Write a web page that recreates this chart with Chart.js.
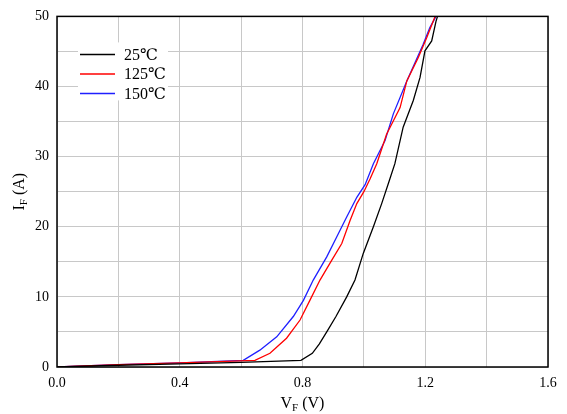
<!DOCTYPE html>
<html>
<head>
<meta charset="utf-8">
<script src="https://cdn.jsdelivr.net/npm/chart.js@4.4.0/dist/chart.umd.min.js"></script>
<style>
  html, body { margin: 0; padding: 0; background: #fff; }
  #wrap { width: 567px; height: 414px; }
</style>
</head>
<body>
<div id="wrap"><canvas id="ivChart" width="567" height="414"></canvas></div>
<script>
// Series data
const seriesNames = ['25℃', '125℃', '150℃'];
const seriesColors = ['#000000', '#ff0000', '#1f1fff'];

const vf25 = [0, 0.2, 0.4, 0.6, 0.795, 0.832, 0.855, 0.879, 0.909, 0.944, 0.971, 0.998, 1.031, 1.058, 1.083, 1.101, 1.128, 1.161, 1.183, 1.199, 1.221, 1.235, 1.24];
const if25 = [0, 0.25, 0.45, 0.65, 0.95, 1.95, 3.3, 5.0, 7.2, 10.0, 12.4, 16.2, 20.0, 23.3, 26.6, 29.0, 34.2, 38.0, 41.3, 45.1, 46.5, 49.3, 50];

const vf125 = [0, 0.2, 0.4, 0.645, 0.694, 0.72, 0.748, 0.792, 0.824, 0.857, 0.895, 0.928, 0.955, 0.977, 1.0, 1.02, 1.042, 1.074, 1.118, 1.14, 1.177, 1.205, 1.232];
const if125 = [0, 0.35, 0.6, 0.95, 1.95, 3.0, 4.1, 6.7, 9.5, 12.4, 15.2, 17.6, 20.9, 23.3, 25.0, 26.8, 29.0, 33.2, 37.0, 40.8, 44.1, 47.0, 50];

const vf150 = [0, 0.2, 0.4, 0.607, 0.661, 0.716, 0.77, 0.803, 0.835, 0.879, 0.911, 0.944, 0.977, 1.004, 1.031, 1.069, 1.096, 1.14, 1.193, 1.215, 1.235];
const if150 = [0, 0.35, 0.6, 0.95, 2.4, 4.3, 7.2, 9.5, 12.4, 15.7, 18.5, 21.4, 24.2, 26.0, 29.0, 32.3, 36.1, 40.8, 46.0, 48.4, 50];

const xTickLabels = ['0.0', '0.4', '0.8', '1.2', '1.6'];
const yTickLabels = ['0', '10', '20', '30', '40', '50'];

const serif = "'Liberation Serif', 'DejaVu Serif', serif";

function toPoints(xs, ys) {
    return xs.map((x, i) => ({ x: x, y: ys[i] }));
}

// frame, axis titles with subscript, legend
const decorPlugin = {
    id: 'decor',
    afterDraw(chart) {
        const ctx = chart.ctx;
        const a = chart.chartArea;
        ctx.save();
        // frame
        ctx.strokeStyle = '#000';
        ctx.lineWidth = 1.5;
        ctx.strokeRect(a.left, a.top, a.right - a.left, a.bottom - a.top);

        // x axis title V_F (V)
        ctx.fillStyle = '#000';
        ctx.textBaseline = 'alphabetic';
        const cx = (a.left + a.right) / 2;
        ctx.font = '16px ' + serif;
        const w1 = ctx.measureText('V').width;
        ctx.font = '11px ' + serif;
        const w2 = ctx.measureText('F').width;
        ctx.font = '16px ' + serif;
        const w3 = ctx.measureText(' (V)').width;
        let x0 = cx - (w1 + w2 + w3) / 2;
        const by = 408;
        ctx.textAlign = 'left';
        ctx.fillText('V', x0, by);
        ctx.font = '11px ' + serif;
        ctx.fillText('F', x0 + w1, by + 3);
        ctx.font = '16px ' + serif;
        ctx.fillText(' (V)', x0 + w1 + w2, by);

        // y axis title I_F (A)
        ctx.translate(24, (a.top + a.bottom) / 2);
        ctx.rotate(-Math.PI / 2);
        const u1 = ctx.measureText('I').width;
        ctx.font = '11px ' + serif;
        const u2 = ctx.measureText('F').width;
        ctx.font = '16px ' + serif;
        const u3 = ctx.measureText(' (A)').width;
        x0 = -(u1 + u2 + u3) / 2;
        ctx.fillText('I', x0, 0);
        ctx.font = '11px ' + serif;
        ctx.fillText('F', x0 + u1, 3);
        ctx.font = '16px ' + serif;
        ctx.fillText(' (A)', x0 + u1 + u2, 0);
        ctx.restore();

        // legend
        ctx.save();
        const lx = a.left + 23, ly = a.top + 36;
        ctx.fillStyle = '#fff';
        ctx.fillRect(lx - 2, ly - 10, 90, 58);
        ctx.font = '16px ' + serif;
        ctx.textBaseline = 'middle';
        seriesNames.forEach((name, i) => {
            const yy = ly + 2 + i * 19.5;
            ctx.strokeStyle = seriesColors[i];
            ctx.lineWidth = 1.5;
            ctx.beginPath();
            ctx.moveTo(lx, yy);
            ctx.lineTo(lx + 35, yy);
            ctx.stroke();
            ctx.fillStyle = '#000';
            ctx.fillText(name, lx + 44, yy + 1);
        });
        ctx.restore();
    }
};

document.addEventListener('DOMContentLoaded', function() {
    const ctx = document.getElementById('ivChart').getContext('2d');
    const xs = [vf25, vf125, vf150];
    const ys = [if25, if125, if150];

    new Chart(ctx, {
        type: 'scatter',
        data: {
            datasets: seriesNames.map((name, i) => ({
                label: name,
                data: toPoints(xs[i], ys[i]),
                showLine: true,
                borderColor: seriesColors[i],
                backgroundColor: seriesColors[i],
                borderWidth: 1.3,
                pointRadius: 0,
                tension: 0
            }))
        },
        options: {
            responsive: false,
            animation: false,
            layout: { padding: { left: 0, top: 15, right: 19, bottom: 0 } },
            plugins: {
                legend: { display: false },
                tooltip: { enabled: false }
            },
            scales: {
                x: {
                    type: 'linear',
                    min: 0,
                    max: 1.6,
                    afterFit: s => { s.height = 47; },
                    grid: { color: '#c8c8c8', lineWidth: 1, drawTicks: false },
                    border: { display: false },
                    ticks: {
                        stepSize: 0.2,
                        padding: 8,
                        color: '#000',
                        font: { family: serif, size: 14 },
                        maxRotation: 0,
                        autoSkip: false,
                        callback: v => {
                            const i = Math.round(v / 0.4 * 1000) / 1000;
                            return Number.isInteger(i) ? xTickLabels[i] : '';
                        }
                    }
                },
                y: {
                    type: 'linear',
                    min: 0,
                    max: 50,
                    afterFit: s => { s.width = 57; },
                    grid: { color: '#c8c8c8', lineWidth: 1, drawTicks: false },
                    border: { display: false },
                    ticks: {
                        stepSize: 5,
                        padding: 8,
                        color: '#000',
                        font: { family: serif, size: 14 },
                        autoSkip: false,
                        callback: v => (v % 10 === 0 ? yTickLabels[v / 10] : '')
                    }
                }
            }
        },
        plugins: [decorPlugin]
    });
});
</script>
</body>
</html>
